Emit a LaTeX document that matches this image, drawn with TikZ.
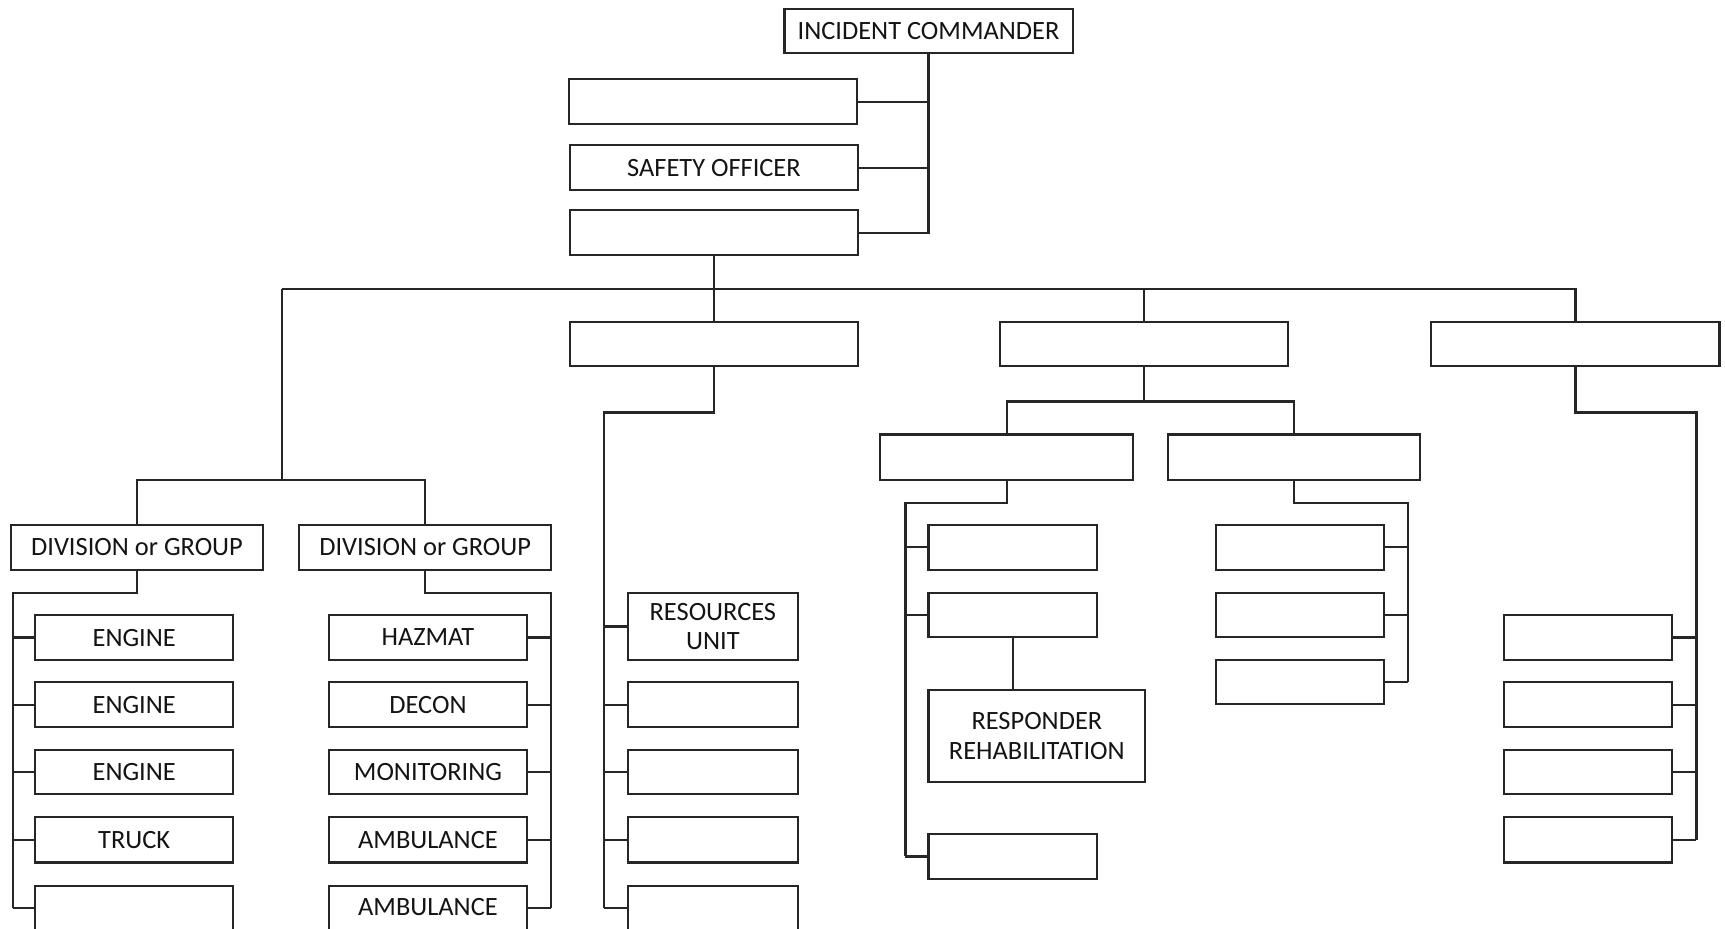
\documentclass[tikz,border=0pt]{standalone}
\usepackage{fontspec}
\setmainfont{Carlito}
\definecolor{ln}{HTML}{262626}
\definecolor{txt}{HTML}{141414}
\newcommand\bx[6]{\node[box, minimum width={(#4-#2)*0.5pt}, minimum height={(#5-#3)*0.5pt}] (#1) at ({(#2+#4)/2},{(#3+#5)/2}) {#6};}
\begin{document}
\begin{tikzpicture}[x=0.5pt,y=-0.5pt,
  box/.style={draw=ln, line width=1pt, fill=white, inner sep=0pt, align=center,
    font=\fontsize{12}{13.5}\selectfont, text=txt},
  conn/.style={draw=ln, line width=1pt}]
\useasboundingbox (0,0) rectangle (1568,844);
\clip (0,0) rectangle (1568,844);
% top
\bx{ic}{713}{8}{975}{48}{INCIDENT COMMANDER}
\bx{sa}{517}{72}{779}{113}{}
\bx{so}{518}{132}{780}{173}{SAFETY OFFICER}
\bx{sc}{518}{191}{780}{232}{}
% sections
\bx{gd}{518}{293}{780}{333}{}
\bx{ge}{909}{293}{1171}{333}{}
\bx{gf}{1301}{293}{1563}{333}{}
% divisions
\bx{dv1}{10}{477}{239}{518}{DIVISION or GROUP}
\bx{dv2}{272}{477}{501}{518}{DIVISION or GROUP}
\bx{l1}{32}{559}{212}{600}{ENGINE}
\bx{l2}{32}{620}{212}{661}{ENGINE}
\bx{l3}{32}{682}{212}{722}{ENGINE}
\bx{l4}{32}{743}{212}{784}{TRUCK}
\bx{l5}{32}{805}{212}{846}{}
\bx{r1}{299}{559}{479}{600}{HAZMAT}
\bx{r2}{299}{620}{479}{661}{DECON}
\bx{r3}{299}{682}{479}{722}{MONITORING}
\bx{r4}{299}{743}{479}{784}{AMBULANCE}
\bx{r5}{299}{805}{479}{846}{\raisebox{1pt}{AMBULANCE}}
% resources
\bx{ru1}{571}{539}{725}{600}{RESOURCES\\UNIT}
\bx{ru2}{571}{620}{725}{661}{}
\bx{ru3}{571}{682}{725}{722}{}
\bx{ru4}{571}{743}{725}{784}{}
\bx{ru5}{571}{805}{725}{846}{}
% E branch
\bx{e1}{800}{395}{1030}{436}{}
\bx{e2}{1062}{395}{1291}{436}{}
\bx{e1a}{844}{477}{997}{518}{}
\bx{e1b}{844}{539}{997}{579}{}
\bx{rr}{844}{627}{1041}{711}{RESPONDER\\REHABILITATION}
\bx{e1c}{844}{758}{997}{799}{}
\bx{e2a}{1105}{477}{1258}{518}{}
\bx{e2b}{1105}{539}{1258}{579}{}
\bx{e2c}{1105}{600}{1258}{640}{}
% F branch
\bx{f1}{1367}{559}{1520}{600}{}
\bx{f2}{1367}{620}{1520}{661}{}
\bx{f3}{1367}{682}{1520}{722}{}
\bx{f4}{1367}{743}{1520}{784}{}
% connectors
\draw[conn] (ic.south) |- (sc.east);
\draw[conn] (sa.east) -- (sa.east -| ic.south);
\draw[conn] (so.east) -- (so.east -| ic.south);
\coordinate (busL) at (256,263);
\draw[conn] (sc.south) -- (sc.south |- busL);
\draw[conn] (busL) -- (gf.north |- busL) -- (gf.north);
\draw[conn] (gd.north) -- (gd.north |- busL);
\draw[conn] (ge.north) -- (ge.north |- busL);
\coordinate (dj) at (256,436);
\draw[conn] (busL) -- (dj);
\draw[conn] (dv1.north) |- (dv2.north |- dj) -- (dv2.north);
\coordinate (lc) at (12,539);
\draw[conn] (dv1.south) |- (lc) -- (lc |- l5.west);
\foreach \i in {1,...,5} \draw[conn] (l\i.west) -- (l\i.west -| lc);
\coordinate (rc) at (501,539);
\draw[conn] (dv2.south) |- (rc) -- (rc |- r5.east);
\foreach \i in {1,...,5} \draw[conn] (r\i.east) -- (r\i.east -| rc);
\coordinate (dc) at (549,375);
\draw[conn] (gd.south) |- (dc) -- (dc |- ru5.west);
\foreach \i in {1,...,5} \draw[conn] (ru\i.west) -- (ru\i.west -| dc);
\coordinate (ej) at (915,365);
\draw[conn] (ge.south) -- (ge.south |- ej);
\draw[conn] (e1.north) |- (e2.north |- ej) -- (e2.north);
\coordinate (k1) at (823,457);
\draw[conn] (e1.south) |- (k1) -- (k1 |- e1c.west);
\foreach \n in {e1a,e1b,e1c} \draw[conn] (\n.west) -- (\n.west -| k1);
\draw[conn] (e1b.south) -- (e1b.south |- rr.north);
\coordinate (k2) at (1280,457);
\draw[conn] (e2.south) |- (k2) -- (k2 |- e2c.east);
\foreach \n in {e2a,e2b,e2c} \draw[conn] (\n.east) -- (\n.east -| k2);
\coordinate (k3) at (1542,375);
\draw[conn] (gf.south) |- (k3) -- (k3 |- f4.east);
\foreach \i in {1,...,4} \draw[conn] (f\i.east) -- (f\i.east -| k3);
\end{tikzpicture}
\end{document}
